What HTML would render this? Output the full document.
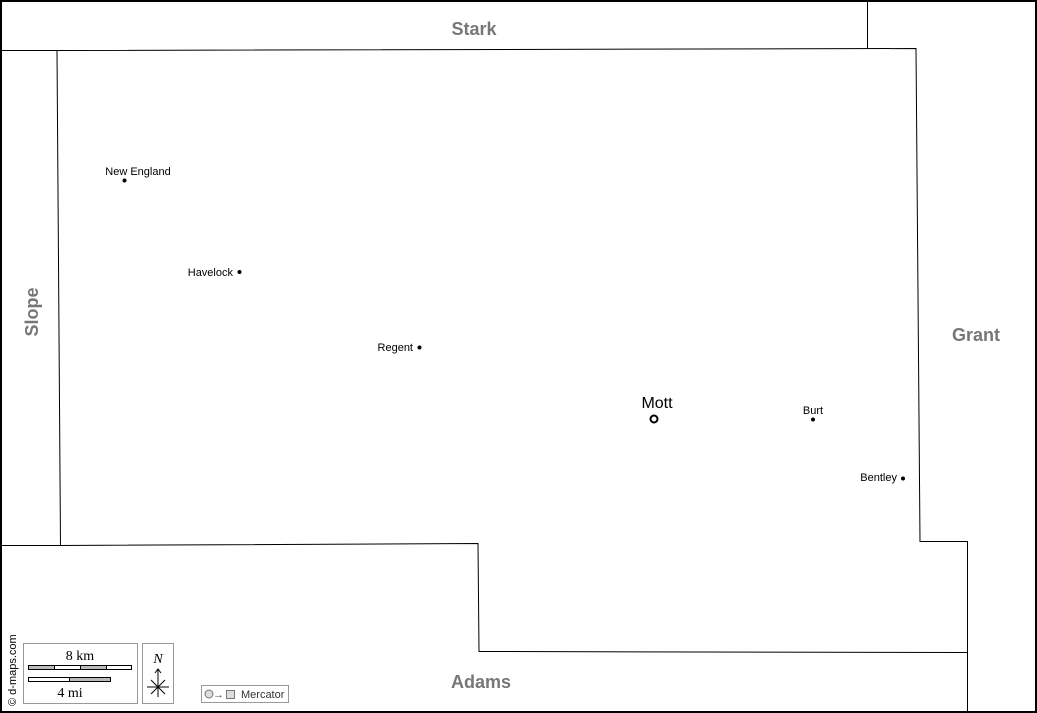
<!DOCTYPE html>
<html><head><style>
html,body{margin:0;padding:0;background:#fff;}
svg{display:block;}
text{font-family:"Liberation Sans",sans-serif;}
</style></head><body>
<svg width="1037" height="713" viewBox="0 0 1037 713" xmlns="http://www.w3.org/2000/svg">
<rect x="1" y="1" width="1035" height="711" fill="#fff" stroke="#000" stroke-width="2"/>
<g fill="none" stroke="#000" stroke-width="1">
<polyline points="0,50.5 57,50.5 916,48.5 920,541.5 967.5,541.5 967.5,713"/>
<polyline points="867.5,0 867.5,49"/>
<polyline points="57,50.5 60.5,545.5"/>
<polyline points="0,545.5 60,545.5 478,543.5 479,651.5 967,652.5"/>
</g>
<g font-weight="bold" fill="#777" font-size="18">
<text x="474" y="35" text-anchor="middle">Stark</text>
<text x="976" y="341" text-anchor="middle">Grant</text>
<text x="481" y="688" text-anchor="middle">Adams</text>
<text transform="translate(38,312) rotate(-90)" text-anchor="middle">Slope</text>
</g>
<g font-size="11" fill="#000">
<text x="138" y="175" text-anchor="middle">New England</text><circle cx="124.5" cy="180.5" r="2"/>
<text x="233" y="276" text-anchor="end">Havelock</text><circle cx="239.5" cy="272" r="2"/>
<text x="413" y="351" text-anchor="end">Regent</text><circle cx="419.5" cy="347.5" r="2"/>
<text x="813" y="414" text-anchor="middle">Burt</text><circle cx="813" cy="419.5" r="2"/>
<text x="897" y="481" text-anchor="end">Bentley</text><circle cx="903" cy="478.5" r="2"/>
<text x="657" y="408" text-anchor="middle" font-size="16">Mott</text>
<circle cx="654" cy="419" r="3.5" fill="#fff" stroke="#000" stroke-width="2"/>
</g>
<text transform="translate(16,706) rotate(-90)" font-size="11" fill="#000">© d-maps.com</text>
<rect x="23.5" y="643.5" width="114" height="60" fill="#fff" stroke="#999"/>
<text x="80" y="660" text-anchor="middle" font-family="Liberation Serif" font-size="14" style="font-family:'Liberation Serif',serif">8 km</text>
<rect x="28.5" y="665.5" width="103" height="4" fill="#fff" stroke="#000"/>
<rect x="28.5" y="665.5" width="26" height="4" fill="#bbb" stroke="#000"/>
<rect x="80.5" y="665.5" width="26" height="4" fill="#bbb" stroke="#000"/>
<rect x="28.5" y="677.5" width="82" height="4" fill="#fff" stroke="#000"/>
<rect x="69.5" y="677.5" width="41" height="4" fill="#bbb" stroke="#000"/>
<text x="70" y="697" text-anchor="middle" font-size="14" style="font-family:'Liberation Serif',serif">4 mi</text>
<rect x="142.5" y="643.5" width="31" height="60" fill="#fff" stroke="#999"/>
<text x="158" y="663" text-anchor="middle" font-size="14" font-style="italic" style="font-family:'Liberation Serif',serif">N</text>
<g stroke="#000" stroke-width="1" fill="none">
<line x1="158" y1="669" x2="158" y2="697"/><line x1="147" y1="687" x2="169" y2="687"/>
<line x1="151" y1="680" x2="165" y2="694"/><line x1="165" y1="680" x2="151" y2="694"/>
<polyline points="155,673 158,669 161,673"/>
</g>
<rect x="201.5" y="685.5" width="87" height="17" fill="#fff" stroke="#999"/>
<circle cx="209" cy="694" r="4" fill="#ddd" stroke="#777"/>
<text x="213" y="698" font-size="11" fill="#555">→</text>
<rect x="226.5" y="690.5" width="8" height="8" fill="#ddd" stroke="#777"/>
<text x="241" y="698" font-size="11" fill="#333">Mercator</text>
</svg>
</body></html>
